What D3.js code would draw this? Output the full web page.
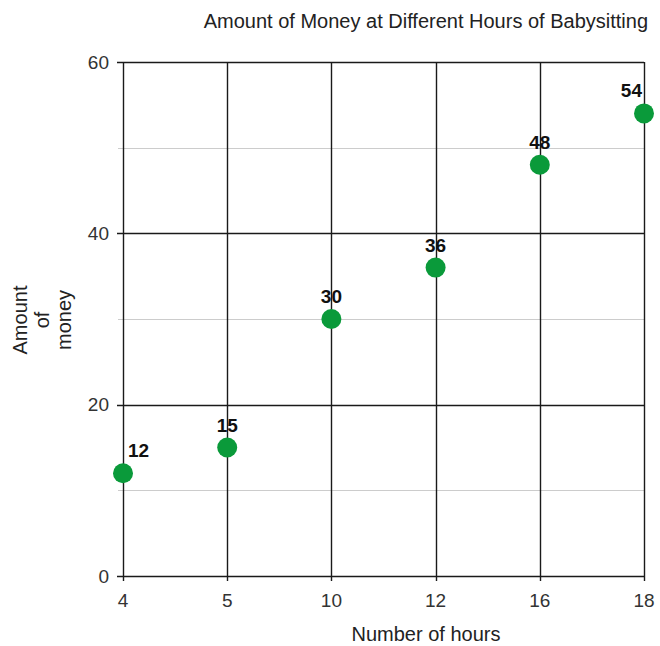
<!DOCTYPE html>
<html>
<head>
<meta charset="utf-8">
<script src="https://cdn.jsdelivr.net/npm/d3@7"></script>
<style>
  html, body { margin: 0; padding: 0; background: #fff; }
  svg { display: block; font-family: "Liberation Sans", Arial, sans-serif; }
</style>
</head>
<body>
<svg id="chart" width="660" height="646"></svg>
<script>
// Hours worked and money earned
const hours = ["4", "5", "10", "12", "16", "18"];
const money = [12, 15, 30, 36, 48, 54];
const majorTicks = [0, 20, 40, 60];
const minorTicks = [10, 30, 50];

const svg = d3.select("#chart");
const plotLeft = 123, plotRight = 644, plotTop = 62, plotBottom = 576;

const x = d3.scalePoint().domain(hours).range([plotLeft, plotRight]).padding(0);
const y = d3.scaleLinear().domain([0, 60]).range([plotBottom, plotTop]);

// minor horizontal grid
svg.append("g").selectAll("line").data(minorTicks).join("line")
  .attr("x1", plotLeft - 5).attr("x2", plotRight)
  .attr("y1", d => Math.round(y(d)) + 0.5).attr("y2", d => Math.round(y(d)) + 0.5)
  .attr("stroke", "#cccccc").attr("stroke-width", 1);

// major horizontal grid with ticks
svg.append("g").selectAll("line").data(majorTicks).join("line")
  .attr("x1", plotLeft - 6).attr("x2", plotRight)
  .attr("y1", d => Math.round(y(d)) + 0.5).attr("y2", d => Math.round(y(d)) + 0.5)
  .attr("stroke", "#1a1a1a").attr("stroke-width", 1.4);

// vertical grid with ticks
svg.append("g").selectAll("line").data(hours).join("line")
  .attr("x1", d => Math.round(x(d)) + 0.5).attr("x2", d => Math.round(x(d)) + 0.5)
  .attr("y1", plotTop).attr("y2", plotBottom + 5)
  .attr("stroke", "#1a1a1a").attr("stroke-width", 1.4);

// y tick labels
svg.append("g").selectAll("text").data(majorTicks).join("text")
  .attr("x", plotLeft - 14).attr("y", d => y(d))
  .attr("dy", "0.35em").attr("text-anchor", "end")
  .attr("font-size", 19).attr("fill", "#333")
  .text(d => d);

// x tick labels
svg.append("g").selectAll("text").data(hours).join("text")
  .attr("x", d => x(d)).attr("y", plotBottom + 31)
  .attr("text-anchor", "middle")
  .attr("font-size", 19).attr("fill", "#333")
  .text(d => d);

// points
const pts = hours.map((h, i) => ({ h, v: money[i] }));
svg.append("g").selectAll("circle").data(pts).join("circle")
  .attr("cx", d => x(d.h)).attr("cy", d => y(d.v))
  .attr("r", 10).attr("fill", "#0a9a3a");

// value annotations, kept inside the plot area
svg.append("g").selectAll("text").data(pts).join("text")
  .attr("x", d => {
    const cx = x(d.h);
    if (cx - 11 < plotLeft) return plotLeft + 5;
    if (cx + 11 > plotRight) return plotRight - 2;
    return cx;
  })
  .attr("text-anchor", d => {
    const cx = x(d.h);
    if (cx - 11 < plotLeft) return "start";
    if (cx + 11 > plotRight) return "end";
    return "middle";
  })
  .attr("y", d => y(d.v) - 16)
  .attr("font-size", 19).attr("font-weight", "bold").attr("fill", "#111")
  .text(d => d.v);

// title
svg.append("text")
  .attr("x", 648).attr("y", 28).attr("text-anchor", "end")
  .attr("font-size", 20).attr("fill", "#222")
  .text("Amount of Money at Different Hours of Babysitting");

// x axis title
svg.append("text")
  .attr("x", 426).attr("y", 641).attr("text-anchor", "middle")
  .attr("font-size", 20).attr("fill", "#222")
  .text("Number of hours");

// y axis title (three lines, rotated)
const yt = svg.append("text")
  .attr("transform", "translate(27,320) rotate(-90)")
  .attr("text-anchor", "middle")
  .attr("font-size", 20).attr("fill", "#222");
["Amount", "of", "money"].forEach((t, i) => {
  yt.append("tspan").attr("x", 0).attr("dy", i === 0 ? 0 : 22).text(t);
});
</script>
</body>
</html>
